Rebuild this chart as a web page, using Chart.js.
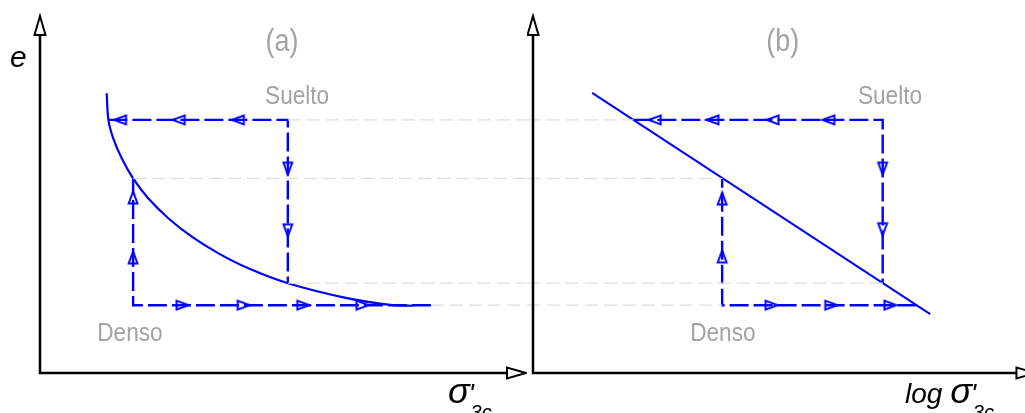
<!DOCTYPE html>
<html>
<head>
<meta charset="utf-8">
<script src="https://cdn.jsdelivr.net/npm/chart.js@4.4.1/dist/chart.umd.min.js"></script>
<style>
  html, body { margin: 0; padding: 0; background: #fff; }
  canvas { position: absolute; top: 0; }
  #chartA { left: 0; }
  #chartB { left: 527px; }
</style>
</head>
<body>
<canvas id="chartA" width="527" height="413"></canvas>
<canvas id="chartB" width="498" height="413"></canvas>
<script>
"use strict"

// void ratio levels (e) shared by both panels
const eSuelto = 71.3
const eMid = 54.8
const eLow = 25.3
const eDenso = 19.1

// (a) e vs sigma'3c
const curveA_x = [13.75, 14.1, 15.1, 16.85, 19.2, 22.3, 26.45, 31.3, 36.8, 42.95, 51.1, 63.3, 72.2, 76.9]
const curveA_e = [78.8, 71.3, 66.1, 60.5, 54.8, 49.2, 43.6, 38.4, 33.7, 29.5, 25.3, 21.1, 19.2, 18.95]
const sueltoA_x = [14.1, 51.1, 51.1]
const sueltoA_e = [eSuelto, eSuelto, eLow]
const densoA_x = [80.6, 19.2, 19.2]
const densoA_e = [eDenso, eDenso, eMid]
const arrowsLeftA = [16.6, 28.7, 40.9]
const arrowsDownA = [57.7, 40.3]
const arrowsUpA = [49.3, 32.4]
const arrowsRightA = [29.3, 41.9, 54.2, 66.4]

// (b) e vs log sigma'3c
const lineB_x = [12.2, 81.9]
const lineB_e = [78.9, 16.6]
const sueltoB_x = [20.7, 72.1, 72.1]
const sueltoB_e = [eSuelto, eSuelto, eLow]
const densoB_x = [79.1, 39.0, 39.0]
const densoB_e = [eDenso, eDenso, eMid]
const arrowsLeftB = [25.2, 37.1, 49.5, 61.0]
const arrowsDownB = [57.7, 40.6]
const arrowsUpB = [49.0, 32.7]
const arrowsRightB = [49.1, 61.4, 73.6]

// grey guide lines: [e, x from, x to]
const guidesA = [[eSuelto, 51.1, 110], [eMid, 19.2, 110], [eLow, 51.1, 110], [eDenso, 80.6, 110]]
const guidesB = [[eSuelto, -5, 20.7], [eMid, -5, 39.0], [eLow, -5, 72.1], [eDenso, -5, 39.0]]

const BLUE = 'rgb(0,0,255)'
const GREY_TXT = '#a3a3a3'
const SANS = "'Liberation Sans', Arial, sans-serif"

// open, elongated arrow head (tip up), rotated per dataset
const arrowHead = document.createElement('canvas')
arrowHead.width = 18
arrowHead.height = 18
{
	const c = arrowHead.getContext('2d')
	c.strokeStyle = BLUE
	c.lineWidth = 2
	c.lineJoin = 'miter'
	c.beginPath()
	c.moveTo(9, 2.5)
	c.lineTo(4.6, 14.5)
	c.lineTo(13.4, 14.5)
	c.closePath()
	c.stroke()
}

const pts = (xs, ys) => xs.map((v, i) => ({ x: v, y: ys[i] }))

function guideSets(guides) {
	return guides.map(g => ({
		data: [{ x: g[1], y: g[0] }, { x: g[2], y: g[0] }],
		showLine: true, borderColor: '#dedede', borderWidth: 1.3,
		borderDash: [13, 6], pointRadius: 0, clip: false
	}))
}

function pathSet(xs, ys) {
	return {
		data: pts(xs, ys), showLine: true, borderColor: BLUE, borderWidth: 2.4,
		borderDash: [19, 5], pointRadius: 0, clip: false
	}
}

function arrowSet(list, fixed, horizontal, rot) {
	return {
		data: list.map(v => horizontal ? { x: v, y: fixed } : { x: fixed, y: v }),
		showLine: false, pointStyle: arrowHead, pointRadius: 9, pointRotation: rot,
		clip: false
	}
}

function narrowText(ctx, text, px, py, align) {
	ctx.save()
	ctx.translate(px, py)
	ctx.scale(0.87, 1)
	ctx.textAlign = align
	ctx.fillText(text, 0, 0)
	ctx.restore()
}

// axes with open arrow heads + the grey/black texts
const schematic = {
	id: 'schematic',
	afterDraw(chart, args, o) {
		const { ctx, chartArea: a, scales: { x, y } } = chart
		ctx.save()

		ctx.strokeStyle = '#000'
		ctx.lineWidth = 2.5
		ctx.lineJoin = 'miter'
		const tipY = a.top - 2
		const tipX = x.getPixelForValue(o.xTip)
		ctx.beginPath()
		ctx.moveTo(a.left, tipY + 17)
		ctx.lineTo(a.left, a.bottom)
		ctx.lineTo(tipX - 17, a.bottom)
		ctx.stroke()

		ctx.lineWidth = 2
		ctx.fillStyle = '#fff'
		ctx.beginPath()
		ctx.moveTo(a.left, tipY)
		ctx.lineTo(a.left - 5.5, tipY + 19)
		ctx.lineTo(a.left + 5.5, tipY + 19)
		ctx.closePath()
		ctx.fill(); ctx.stroke()
		ctx.beginPath()
		ctx.moveTo(tipX, a.bottom)
		ctx.lineTo(tipX - 19, a.bottom - 5.5)
		ctx.lineTo(tipX - 19, a.bottom + 5.5)
		ctx.closePath()
		ctx.fill(); ctx.stroke()

		// grey annotations
		ctx.fillStyle = GREY_TXT
		ctx.textBaseline = 'alphabetic'
		ctx.font = '31px ' + SANS
		narrowText(ctx, o.tag, x.getPixelForValue(o.tagX), y.getPixelForValue(90.6), 'center')
		ctx.font = '26px ' + SANS
		narrowText(ctx, 'Suelto', x.getPixelForValue(o.sueltoX), y.getPixelForValue(75.8), 'left')
		narrowText(ctx, 'Denso', x.getPixelForValue(o.densoX), y.getPixelForValue(9.0), 'left')

		// axis titles
		ctx.fillStyle = '#000'
		ctx.textAlign = 'left'
		ctx.font = 'italic 30px ' + SANS
		ctx.fillText('e', a.left - 30, y.getPixelForValue(86.2))
		let px = x.getPixelForValue(o.titleX)
		const base = y.getPixelForValue(-8.5)
		ctx.font = 'italic 28px ' + SANS
		if (o.title) {
			ctx.fillText(o.title, px, base)
			px += ctx.measureText(o.title).width
		}
		ctx.font = 'italic 36px ' + SANS
		ctx.fillText('\u03c3', px, base)
		px += ctx.measureText('\u03c3').width
		ctx.font = 'italic 28px ' + SANS
		ctx.fillText("'", px - 1, base)
		ctx.font = 'italic 20px ' + SANS
		ctx.fillText('3c', px + 1, base + 16)

		ctx.restore()
	}
}

function makeChart(id, datasets, pad, opts) {
	return new Chart(document.getElementById(id), {
		type: 'scatter',
		data: { datasets: datasets },
		options: {
			responsive: false,
			animation: false,
			events: [],
			layout: { padding: pad, autoPadding: false },
			scales: {
				x: { type: 'linear', min: 0, max: 100, display: false },
				y: { type: 'linear', min: 0, max: 100, display: false }
			},
			plugins: { legend: { display: false }, tooltip: { enabled: false }, schematic: opts }
		},
		plugins: [schematic]
	})
}

makeChart('chartA', [
	...guideSets(guidesA),
	{
		data: pts(curveA_x, curveA_e), showLine: true, borderColor: BLUE, borderWidth: 2.2,
		pointRadius: 0, tension: 0.3, clip: false
	},
	pathSet(sueltoA_x, sueltoA_e),
	pathSet(densoA_x, densoA_e),
	arrowSet(arrowsLeftA, eSuelto, true, -90),
	arrowSet(arrowsDownA, 51.1, false, 180),
	arrowSet(arrowsUpA, 19.2, false, 0),
	arrowSet(arrowsRightA, eDenso, true, 90)
], { left: 40, right: 2, top: 18, bottom: 40 },
	{ xTip: 100.2, tag: '(a)', tagX: 49.9, sueltoX: 46.4, densoX: 11.8, title: '', titleX: 84.1 })

makeChart('chartB', [
	...guideSets(guidesB),
	{
		data: pts(lineB_x, lineB_e), showLine: true, borderColor: BLUE, borderWidth: 2,
		pointRadius: 0, clip: false
	},
	pathSet(sueltoB_x, sueltoB_e),
	pathSet(densoB_x, densoB_e),
	arrowSet(arrowsLeftB, eSuelto, true, -90),
	arrowSet(arrowsDownB, 72.1, false, 180),
	arrowSet(arrowsUpB, 39.0, false, 0),
	arrowSet(arrowsRightB, eDenso, true, 90)
], { left: 6, right: 7, top: 18, bottom: 40 },
	{ xTip: 103.6, tag: '(b)', tagX: 51.5, sueltoX: 67.0, densoX: 32.4, title: 'log ', titleX: 76.7 })
</script>
</body>
</html>
